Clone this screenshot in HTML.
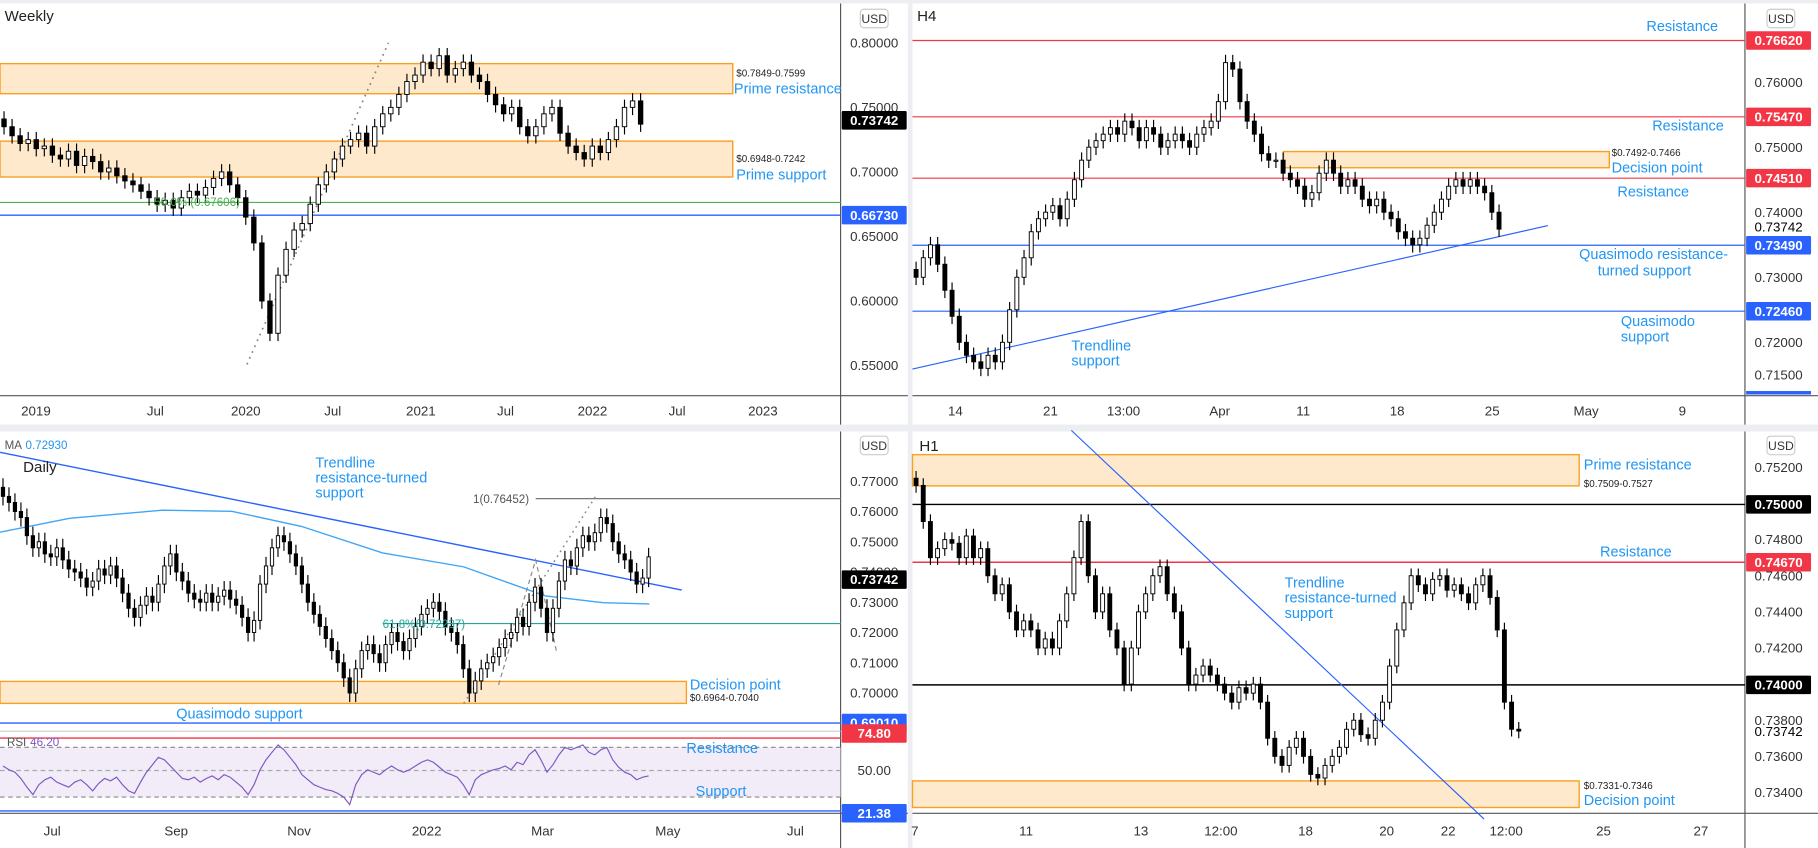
<!DOCTYPE html>
<html><head><meta charset="utf-8"><style>
html,body{margin:0;padding:0;background:#fff;width:1818px;height:848px;overflow:hidden}
svg{display:block;font-family:"Liberation Sans",sans-serif}
</style></head><body>
<svg id="c" width="1818" height="848" viewBox="0 0 1568 733" preserveAspectRatio="none">
<rect x="0" y="0" width="1568" height="733" fill="#fff"/>
<!-- separators -->
<rect x="0" y="367" width="1568" height="6" fill="#edeef2"/>
<rect x="783" y="0" width="4" height="733" fill="#edeef2"/>
<rect x="0" y="0" width="1568" height="3" fill="#edeef2"/>
<g stroke="#555" stroke-width="1">
<line x1="725" y1="3" x2="725" y2="367"/><line x1="0" y1="342" x2="783" y2="342"/>
<line x1="1505" y1="3" x2="1505" y2="367"/><line x1="787" y1="342" x2="1568" y2="342"/>
<line x1="725" y1="373" x2="725" y2="733"/><line x1="0" y1="703" x2="783" y2="703"/><line x1="0" y1="632" x2="725" y2="632" stroke="#ccc"/>
<line x1="1505" y1="373" x2="1505" y2="733"/><line x1="787" y1="703" x2="1568" y2="703"/>
</g>
<g id="layer"></g>
</svg>
<script>
// ---- data ----
const weeklyCloses=[0.735,0.728,0.722,0.725,0.718,0.72,0.713,0.71,0.716,0.705,0.712,0.708,0.70,0.703,0.697,0.693,0.69,0.685,0.68,0.675,0.678,0.672,0.68,0.685,0.682,0.688,0.695,0.70,0.69,0.68,0.665,0.645,0.60,0.575,0.62,0.64,0.655,0.66,0.675,0.69,0.70,0.71,0.72,0.725,0.73,0.72,0.735,0.745,0.75,0.76,0.77,0.775,0.785,0.78,0.79,0.775,0.78,0.785,0.775,0.77,0.76,0.752,0.745,0.75,0.735,0.728,0.735,0.745,0.75,0.73,0.72,0.715,0.71,0.72,0.715,0.725,0.735,0.75,0.755,0.737];
const h4Closes=[0.730,0.733,0.735,0.732,0.728,0.724,0.72,0.718,0.717,0.716,0.718,0.717,0.72,0.725,0.73,0.733,0.737,0.739,0.74,0.741,0.739,0.742,0.745,0.748,0.75,0.751,0.752,0.753,0.752,0.754,0.753,0.751,0.753,0.752,0.750,0.751,0.752,0.751,0.750,0.752,0.753,0.754,0.757,0.763,0.762,0.757,0.754,0.752,0.749,0.748,0.748,0.746,0.745,0.744,0.742,0.743,0.746,0.748,0.746,0.744,0.745,0.744,0.742,0.741,0.742,0.740,0.739,0.737,0.736,0.735,0.736,0.738,0.740,0.742,0.744,0.745,0.744,0.745,0.744,0.743,0.740,0.7374];
const dailyCloses=[0.765,0.763,0.760,0.758,0.752,0.748,0.750,0.746,0.745,0.748,0.744,0.741,0.740,0.738,0.735,0.737,0.741,0.739,0.742,0.738,0.733,0.728,0.725,0.729,0.732,0.730,0.736,0.742,0.746,0.740,0.737,0.733,0.731,0.730,0.733,0.730,0.732,0.734,0.731,0.729,0.725,0.720,0.724,0.736,0.742,0.748,0.752,0.750,0.746,0.742,0.736,0.730,0.726,0.722,0.718,0.714,0.710,0.705,0.700,0.708,0.714,0.716,0.713,0.710,0.716,0.720,0.717,0.714,0.718,0.722,0.726,0.728,0.730,0.727,0.722,0.720,0.716,0.708,0.700,0.704,0.708,0.710,0.712,0.715,0.718,0.720,0.725,0.722,0.730,0.735,0.728,0.720,0.728,0.737,0.744,0.742,0.748,0.752,0.750,0.753,0.758,0.756,0.750,0.746,0.744,0.740,0.736,0.738,0.745];
const rsiValues=[55,52,50,45,38,32,40,44,46,42,40,38,42,44,40,35,41,45,43,46,40,35,33,42,50,56,62,60,55,50,45,44,46,42,45,47,44,48,46,42,38,32,40,52,60,66,72,68,62,56,48,44,40,38,36,35,33,30,24,40,48,52,50,48,52,55,52,50,52,55,58,60,58,54,50,48,46,40,32,44,48,50,52,53,55,52,58,56,64,68,60,50,56,64,70,68,70,72,66,64,68,70,60,54,50,48,44,46,47];
const h1Closes=[0.751,0.749,0.747,0.7475,0.748,0.7478,0.747,0.7482,0.747,0.7475,0.746,0.745,0.7455,0.744,0.743,0.7435,0.743,0.742,0.7425,0.742,0.7435,0.745,0.747,0.749,0.746,0.744,0.745,0.743,0.742,0.740,0.742,0.744,0.745,0.746,0.7465,0.745,0.744,0.742,0.740,0.7405,0.741,0.7405,0.740,0.7395,0.739,0.7398,0.7395,0.740,0.739,0.737,0.736,0.7355,0.7365,0.737,0.736,0.735,0.7348,0.7355,0.736,0.7365,0.7375,0.738,0.7372,0.737,0.738,0.739,0.741,0.743,0.7445,0.746,0.7455,0.745,0.7458,0.746,0.7452,0.7455,0.745,0.7445,0.7455,0.746,0.7448,0.743,0.739,0.7375,0.7374];
const weeklyTicks=["0.80000","0.75000","0.70000","0.65000","0.60000","0.55000"];
const h4Ticks=["0.76000","0.75000","0.74000","0.73000","0.72000","0.71500"];
const dailyTicks=["0.77000","0.76000","0.75000","0.74000","0.73000","0.72000","0.71000","0.70000"];
const h1Ticks=["0.75200","0.74800","0.74600","0.74400","0.74200","0.73800","0.73600","0.73400"];
const weeklyDates=[["2019",31],["Jul",134],["2020",212],["Jul",287],["2021",363],["Jul",436],["2022",511],["Jul",584],["2023",658]];
const h4Dates=[["14",824],["21",906],["13:00",969],["Apr",1052],["11",1124],["18",1205],["25",1287],["May",1368],["9",1451]];
const dailyDates=[["Jul",45],["Sep",152],["Nov",258],["2022",368],["Mar",468],["May",576],["Jul",686]];
const h1Dates=[["7",789],["11",885],["13",984],["12:00",1053],["18",1126],["20",1196],["22",1249],["12:00",1299],["25",1383],["27",1467]];

const NS="http://www.w3.org/2000/svg";
const L=document.getElementById('layer');
function el(tag,attrs,parent){const e=document.createElementNS(NS,tag);for(const k in attrs)e.setAttribute(k,attrs[k]);(parent||L).appendChild(e);return e;}
function txt(x,y,s,fill,size,anchor,parent){const t=el('text',{x:x,y:y,fill:fill,'font-size':size,'text-anchor':anchor||'start'},parent);t.textContent=s;return t;}
function scale(p0,y0,p1,y1){return p=>y0+(p-p0)*(y1-y0)/(p1-p0);}
const yW=scale(0.80,37,0.55,316), yH4=scale(0.76,71,0.715,324), yD=scale(0.77,416,0.70,599), yH1=scale(0.752,404,0.734,685), yR=scale(70,646,30,689);

function candles(arr,x0,x1,ys,wick,name){
  const g=el('g',{});
  
  
  const step=(x1-x0)/arr.length, w=Math.max(1.5,step*0.55);
  for(let i=0;i<arr.length;i++){
    const o=i?arr[i-1]:arr[0]+wick, c=arr[i];
    const hi=Math.max(o,c)+wick, lo=Math.min(o,c)-wick;
    const x=x0+step*(i+0.5);
    el('line',{x1:x,x2:x,y1:ys(hi),y2:ys(lo),stroke:'#000','stroke-width':1},g);
    const top=ys(Math.max(o,c)),bot=ys(Math.min(o,c));
    const r=el('rect',{x:x-w/2,y:top,width:w,height:Math.max(1,bot-top),fill:c>=o?'#fff':'#000',stroke:'#000','stroke-width':0.8},g);
    
    
  }
}
function ticks(arr,ys,x,name){
  for(const s of arr){const t=txt(x,ys(parseFloat(s))+4,s,'#333',11.5,'middle');
    
    }
}
function dates(arr,y,name){
  for(const d of arr){const t=txt(d[1],y,d[0],'#333',11.5,'middle');
    
    }
}
function badge(x,y,label,bg,color){
  const g=el('g',{});
  
  
  el('rect',{x:x,y:y-8,width:56,height:16,fill:bg,rx:1},g);
  txt(x+28,y+4,label,color||'#fff',11.5,'middle',g).setAttribute('font-weight','bold');
}
function hline(x1,x2,y,color,w,dash){const l=el('line',{x1:x1,x2:x2,y1:y,y2:y,stroke:color,'stroke-width':w||1});if(dash)l.setAttribute('stroke-dasharray',dash);return l;}
function box(x,y,w,h){const r=el('rect',{x:x,y:y,width:w,height:h,fill:'#ffe9cc',stroke:'#f7a021','stroke-width':1.2});return r;}
function usd(x,y){el('rect',{x:x,y:y,width:24,height:16,rx:3,fill:'#fff',stroke:'#ccc'});txt(x+12,y+12,'USD','#333',10.5,'middle');}

// ===== Weekly (top-left) =====
const b1=box(0,55,632,26); 
const b2=box(0,122,632,31); 
hline(0,725,175,'#4caf50',1);
hline(0,725,186,'#2962ff',1.2);
el('line',{x1:213,y1:315,x2:335,y2:37,stroke:'#888','stroke-width':1.5,'stroke-dasharray':'1.5 4'});
candles(weeklyCloses,0,556,yW,0.006,'weekly-candles');
txt(4,18,'Weekly','#222',13);
txt(635,66,'$0.7849-0.7599','#222',8.5);
txt(633,81,'Prime resistance','#2196f3',12.5);
txt(635,140,'$0.6948-0.7242','#222',8.5);
txt(635,155,'Prime support','#2196f3',12.5);
txt(133,178,'50.0% (0.67606)','#4caf50',10);
ticks(weeklyTicks,yW,754,'weekly-price-tick');
usd(742,8);
badge(726,104,'0.73742','#000');
badge(726,186,'0.66730','#2962ff');
dates(weeklyDates,359,'weekly-date-tick');

// ===== H4 (top-right) =====
const b3=box(1107,131,281,14);
hline(787,1505,35,'#f23645');hline(787,1505,101,'#f23645');hline(787,1505,154,'#f23645');
hline(787,1505,212,'#2962ff');hline(787,1505,269,'#2962ff');
el('line',{x1:787,y1:319,x2:1335,y2:195,stroke:'#2962ff','stroke-width':1});
candles(h4Closes,787,1296,yH4,0.0012,'h4-candles');
txt(791,18,'H4','#222',13);
txt(1420,27,'Resistance','#2196f3',12.5);
txt(1425,113,'Resistance','#2196f3',12.5);
txt(1390,135,'$0.7492-0.7466','#222',8.5);
txt(1390,149,'Decision point','#2196f3',12.5);
txt(1395,170,'Resistance','#2196f3',12.5);
txt(1362,224,'Quasimodo resistance-','#2196f3',12.5);
txt(1378,238,'turned support','#2196f3',12.5);
txt(1398,282,'Quasimodo','#2196f3',12.5);
txt(1398,295,'support','#2196f3',12.5);
txt(924,303,'Trendline','#2196f3',12.5);
txt(924,316,'support','#2196f3',12.5);
ticks(h4Ticks,yH4,1534,'h4-price-tick');
usd(1524,8);
badge(1506,35,'0.76620','#f23645');badge(1506,101,'0.75470','#f23645');badge(1506,154,'0.74510','#f23645');
txt(1534,200,'0.73742','#000',11.5,'middle');
badge(1506,212,'0.73490','#2962ff');badge(1506,269,'0.72460','#2962ff');
el('rect',{x:1506,y:338,width:56,height:3,fill:'#2962ff'});
dates(h4Dates,359,'h4-date-tick');

// ===== Daily (bottom-left) =====
const b4=box(0,589,592,19);
hline(462,725,431,'#777',1);hline(330,725,539,'#26a69a',1);
hline(0,725,625,'#2962ff',1.2);
el('line',{x1:0,y1:391,x2:588,y2:510,stroke:'#2962ff','stroke-width':1.2});
el('polyline',{points:'0,460 60,448 140,441 200,442 260,455 330,478 400,490 470,515 520,521 560,522',fill:'none',stroke:'#42a5f5','stroke-width':1.2});
el('line',{x1:400,y1:608,x2:515,y2:427,stroke:'#888','stroke-width':1.3,'stroke-dasharray':'1.5 3.5'});
el('polyline',{points:'430,592 462,484 480,563',fill:'none',stroke:'#888','stroke-width':1,'stroke-dasharray':'4 3'});
candles(dailyCloses,0,562,yD,0.003,'daily-candles');
txt(4,388,'MA','#555',10);txt(22,388,'0.72930','#2196f3',10);
txt(20,408,'Daily','#222',13);
txt(272,404,'Trendline','#2196f3',12.5);txt(272,417,'resistance-turned','#2196f3',12.5);txt(272,430,'support','#2196f3',12.5);
txt(408,435,'1(0.76452)','#555',10);
txt(330,543,'61.8%(0.72237)','#26a69a',10);
txt(595,596,'Decision point','#2196f3',12.5);txt(595,606,'$0.6964-0.7040','#222',8.5);
txt(152,621,'Quasimodo support','#2196f3',12.5);
ticks(dailyTicks,yD,754,'daily-price-tick');
usd(742,377);
badge(726,501,'0.73742','#000');
badge(726,625,'0.69010','#2962ff');
// RSI
el('rect',{x:0,y:646,width:725,height:43,fill:'#ede7f6',opacity:0.8});
hline(0,725,638,'#f23645',1.2);hline(0,725,646,'#888',1,'4 3');hline(0,725,666,'#aaa',1,'4 3');hline(0,725,689,'#888',1,'4 3');hline(0,725,701,'#2962ff',1.2);
const rsiPts=rsiValues.map((v,i)=>((i+0.5)*562/rsiValues.length).toFixed(1)+','+yR(v).toFixed(1)).join(' ');
const rl=el('polyline',{points:rsiPts,fill:'none',stroke:'#7e57c2','stroke-width':1});


txt(6,645,'RSI','#555',10);txt(26,645,'46.20','#7e57c2',10);
txt(592,651,'Resistance','#2196f3',12.5);txt(600,688,'Support','#2196f3',12.5);
badge(726,634,'74.80','#f23645');
txt(754,670,'50.00','#333',11.5,'middle');
badge(726,703,'21.38','#2962ff');
dates(dailyDates,722,'daily-date-tick');

// ===== H1 (bottom-right) =====
const b5=box(787,393,575,27);
const b6=box(787,675,575,23);
hline(787,1505,436,'#000',1.2);hline(787,1505,486,'#f23645',1.2);hline(787,1505,592,'#000',1.2);
el('line',{x1:924,y1:372,x2:1280,y2:708,stroke:'#2962ff','stroke-width':1});
candles(h1Closes,787,1313,yH1,0.0004,'h1-candles');
txt(793,390,'H1','#222',13);
txt(1366,406,'Prime resistance','#2196f3',12.5);txt(1366,421,'$0.7509-0.7527','#222',8.5);
txt(1380,481,'Resistance','#2196f3',12.5);
txt(1108,508,'Trendline','#2196f3',12.5);txt(1108,521,'resistance-turned','#2196f3',12.5);txt(1108,534,'support','#2196f3',12.5);
txt(1366,682,'$0.7331-0.7346','#222',8.5);txt(1366,696,'Decision point','#2196f3',12.5);
ticks(h1Ticks,yH1,1534,'h1-price-tick');
usd(1524,377);
badge(1506,436,'0.75000','#000');badge(1506,486,'0.74670','#f23645');badge(1506,592,'0.74000','#000');
txt(1534,636,'0.73742','#000',11.5,'middle');
dates(h1Dates,722,'h1-date-tick');
</script>
</body></html>
